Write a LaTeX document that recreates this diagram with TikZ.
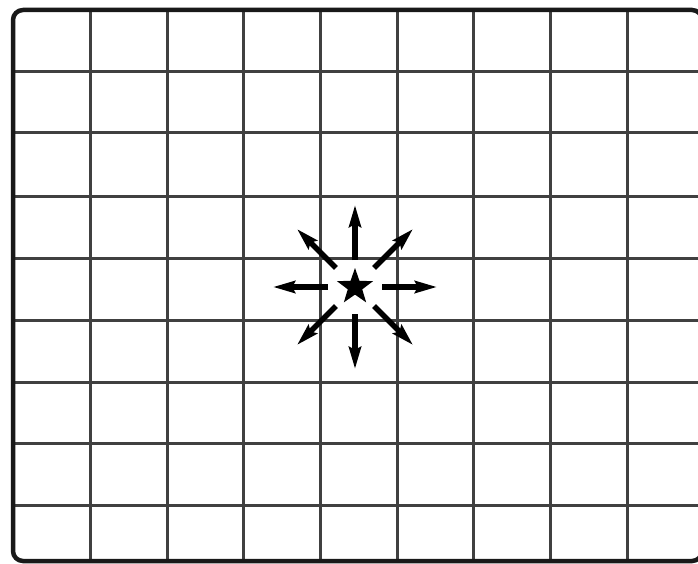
\documentclass[tikz,border=0pt]{standalone}
\usetikzlibrary{arrows.meta,shapes.geometric}
\begin{document}
\begin{tikzpicture}[x=1pt,y=-1pt,
 gridline/.style={draw=black!75,line width=3pt},
 frame/.style={draw=black!90,line width=4.5pt,rounded corners=10pt},
 ray/.style={line width=5.5pt,-{Stealth[length=22pt,width=12pt,inset=3pt]}},
 starnode/.style={star,star points=5,star point ratio=2.5,fill=black,minimum size=38pt,inner sep=0pt}]
\fill[white] (0,0) rectangle (698,564);
\useasboundingbox (0,0) rectangle (698,564);
\foreach \x in {90,167,243,320,397,473,550,627} \draw[gridline] (\x,10) -- (\x,561);
\foreach \y in {72,133,196,258,320,382,443,505} \draw[gridline] (13,\y) -- (698,\y);
\draw[frame] (13,10) rectangle (702,561);
\node[starnode] (c) at (355,287) {};
\foreach \a in {0,45,...,315} {
  \path (c.center) ++(\a:27) coordinate (i\a);
  \path (c.center) ++(\a:82) coordinate (o\a);
  \draw[ray] (i\a) -- (o\a);
}
\end{tikzpicture}
\end{document}
